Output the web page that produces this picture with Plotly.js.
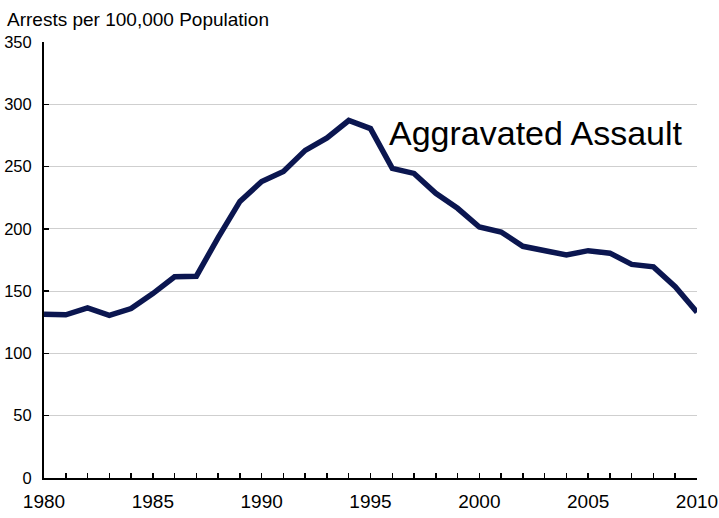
<!DOCTYPE html>
<html>
<head>
<meta charset="utf-8">
<script src="https://cdn.plot.ly/plotly-3.0.1.min.js"></script>
<style>html,body{margin:0;padding:0;background:#fff;}#chart{width:719px;height:518px;}</style>
</head>
<body>
<div id="chart"></div>
<script>
const years = [1980,1981,1982,1983,1984,1985,1986,1987,1988,1989,1990,1991,1992,1993,1994,1995,1996,1997,1998,1999,2000,2001,2002,2003,2004,2005,2006,2007,2008,2009,2010];
const arrests = [131.5,131,136.5,130.5,136,148,161.5,162,193,222,238,246,263,273,287,280.5,248.5,244.5,228.5,216.5,201.5,197.5,186,182,179,182.5,180.5,171.5,169.5,153.5,133];
const yTicks = [0,50,100,150,200,250,300,350];
const xTicks = [1980,1985,1990,1995,2000,2005,2010];
const yAxisLabel = "Arrests per 100,000 Population";
const seriesLabel = "Aggravated Assault";

const trace = {
  x: years, y: arrests, type: 'scatter', mode: 'lines',
  line: {color: '#0b1650', width: 5.5}, hoverinfo: 'skip'
};

const layout = {
  width: 719, height: 518,
  margin: {l: 44, r: 22, t: 42, b: 40},
  paper_bgcolor: '#fff', plot_bgcolor: '#fff',
  showlegend: false,
  font: {family: 'Liberation Sans, Arial, sans-serif', color: '#000'},
  xaxis: {
    range: [1980, 2010], tickvals: xTicks, ticktext: xTicks.map(String),
    ticks: 'inside', ticklen: 5, tickwidth: 1.5, tickcolor: '#000',
    minor: {dtick: 1, tick0: 1980, ticks: 'inside', ticklen: 5, tickwidth: 1.5, tickcolor: '#000', showgrid: false},
    showline: true, linecolor: '#000', linewidth: 2,
    showgrid: false, zeroline: false,
    tickfont: {size: 19}, ticklabelstandoff: 5
  },
  yaxis: {
    range: [0, 350], tickvals: yTicks,
    ticks: 'inside', ticklen: 5, tickwidth: 1.5, tickcolor: '#000',
    showline: true, linecolor: '#000', linewidth: 2,
    showgrid: true, gridcolor: '#cfcfcf', gridwidth: 1, zeroline: false,
    tickfont: {size: 16.5}, ticklabelstandoff: 7
  },
  annotations: [
    {text: yAxisLabel, xref: 'paper', yref: 'paper', x: -0.06, y: 1.0, xanchor: 'left', yanchor: 'bottom', yshift: 10,
     showarrow: false, font: {size: 19}},
    {text: seriesLabel, xref: 'x', yref: 'y', x: 1995.75, y: 277, xanchor: 'left', yanchor: 'middle',
     showarrow: false, font: {size: 34}}
  ]
};

Plotly.newPlot('chart', [trace], layout, {displayModeBar: false, staticPlot: true});
</script>
</body>
</html>
